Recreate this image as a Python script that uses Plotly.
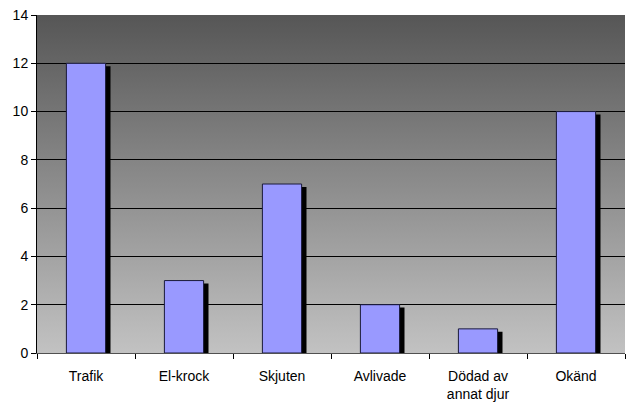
import base64
import plotly.graph_objects as go

categories = ["Trafik", "El-krock", "Skjuten", "Avlivade", "Dödad av<br>annat djur", "Okänd"]
values = [12, 3, 7, 2, 1, 10]
y_ticks = [0, 2, 4, 6, 8, 10, 12, 14]

BAR_W = 0.40
SHADOW_DX = 0.05
SHADOW_DY = 0.12

fig = go.Figure()

# shadow bars
fig.add_trace(go.Bar(
    x=categories, y=[v - SHADOW_DY for v in values],
    width=BAR_W, offset=-BAR_W / 2 + SHADOW_DX,
    marker=dict(color="black", line=dict(width=0)),
    hoverinfo="skip", showlegend=False,
))
# main bars
fig.add_trace(go.Bar(
    x=categories, y=values,
    width=BAR_W, offset=-BAR_W / 2,
    marker=dict(color="#9999FF", line=dict(color="#1a1a3a", width=1)),
    showlegend=False,
))

# vertical gradient background (decoration)
svg = ('<svg xmlns="http://www.w3.org/2000/svg" width="100" height="100" preserveAspectRatio="none">'
       '<defs><linearGradient id="g" x1="0" y1="0" x2="0" y2="1">'
       '<stop offset="0" stop-color="#565656"/><stop offset="1" stop-color="#c2c2c2"/>'
       '</linearGradient></defs><rect width="100" height="100" fill="url(#g)"/></svg>')
svg_uri = "data:image/svg+xml;base64," + base64.b64encode(svg.encode()).decode()

fig.update_layout(
    width=626, height=405,
    margin=dict(l=37, r=1, t=15, b=52, autoexpand=False),
    paper_bgcolor="white",
    plot_bgcolor="rgba(0,0,0,0)",
    barmode="overlay",
    images=[dict(source=svg_uri, xref="paper", yref="paper", x=0, y=1,
                 sizex=1, sizey=1, sizing="stretch", xanchor="left",
                 yanchor="top", layer="below")],
    font=dict(family="Liberation Sans, Arial, sans-serif", size=14, color="black"),
    xaxis=dict(
        type="category", tickson="boundaries", ticks="outside", ticklen=5,
        tickcolor="black", showline=True, linecolor="#505050", linewidth=1,
        showgrid=False, range=[-0.5, 5.5], automargin=False,
        ticklabelstandoff=10,
    ),
    yaxis=dict(
        range=[0, 14], tickvals=y_ticks, ticks="outside", ticklen=5,
        tickcolor="black", showline=True, linecolor="black", linewidth=1,
        showgrid=True, gridcolor="black", gridwidth=1, zeroline=False,
        automargin=False,
    ),
)

fig.write_html(
    "out.html",
    config={"displayModeBar": False},
    post_script="document.body.style.margin='0';document.body.style.overflow='hidden';",
)
